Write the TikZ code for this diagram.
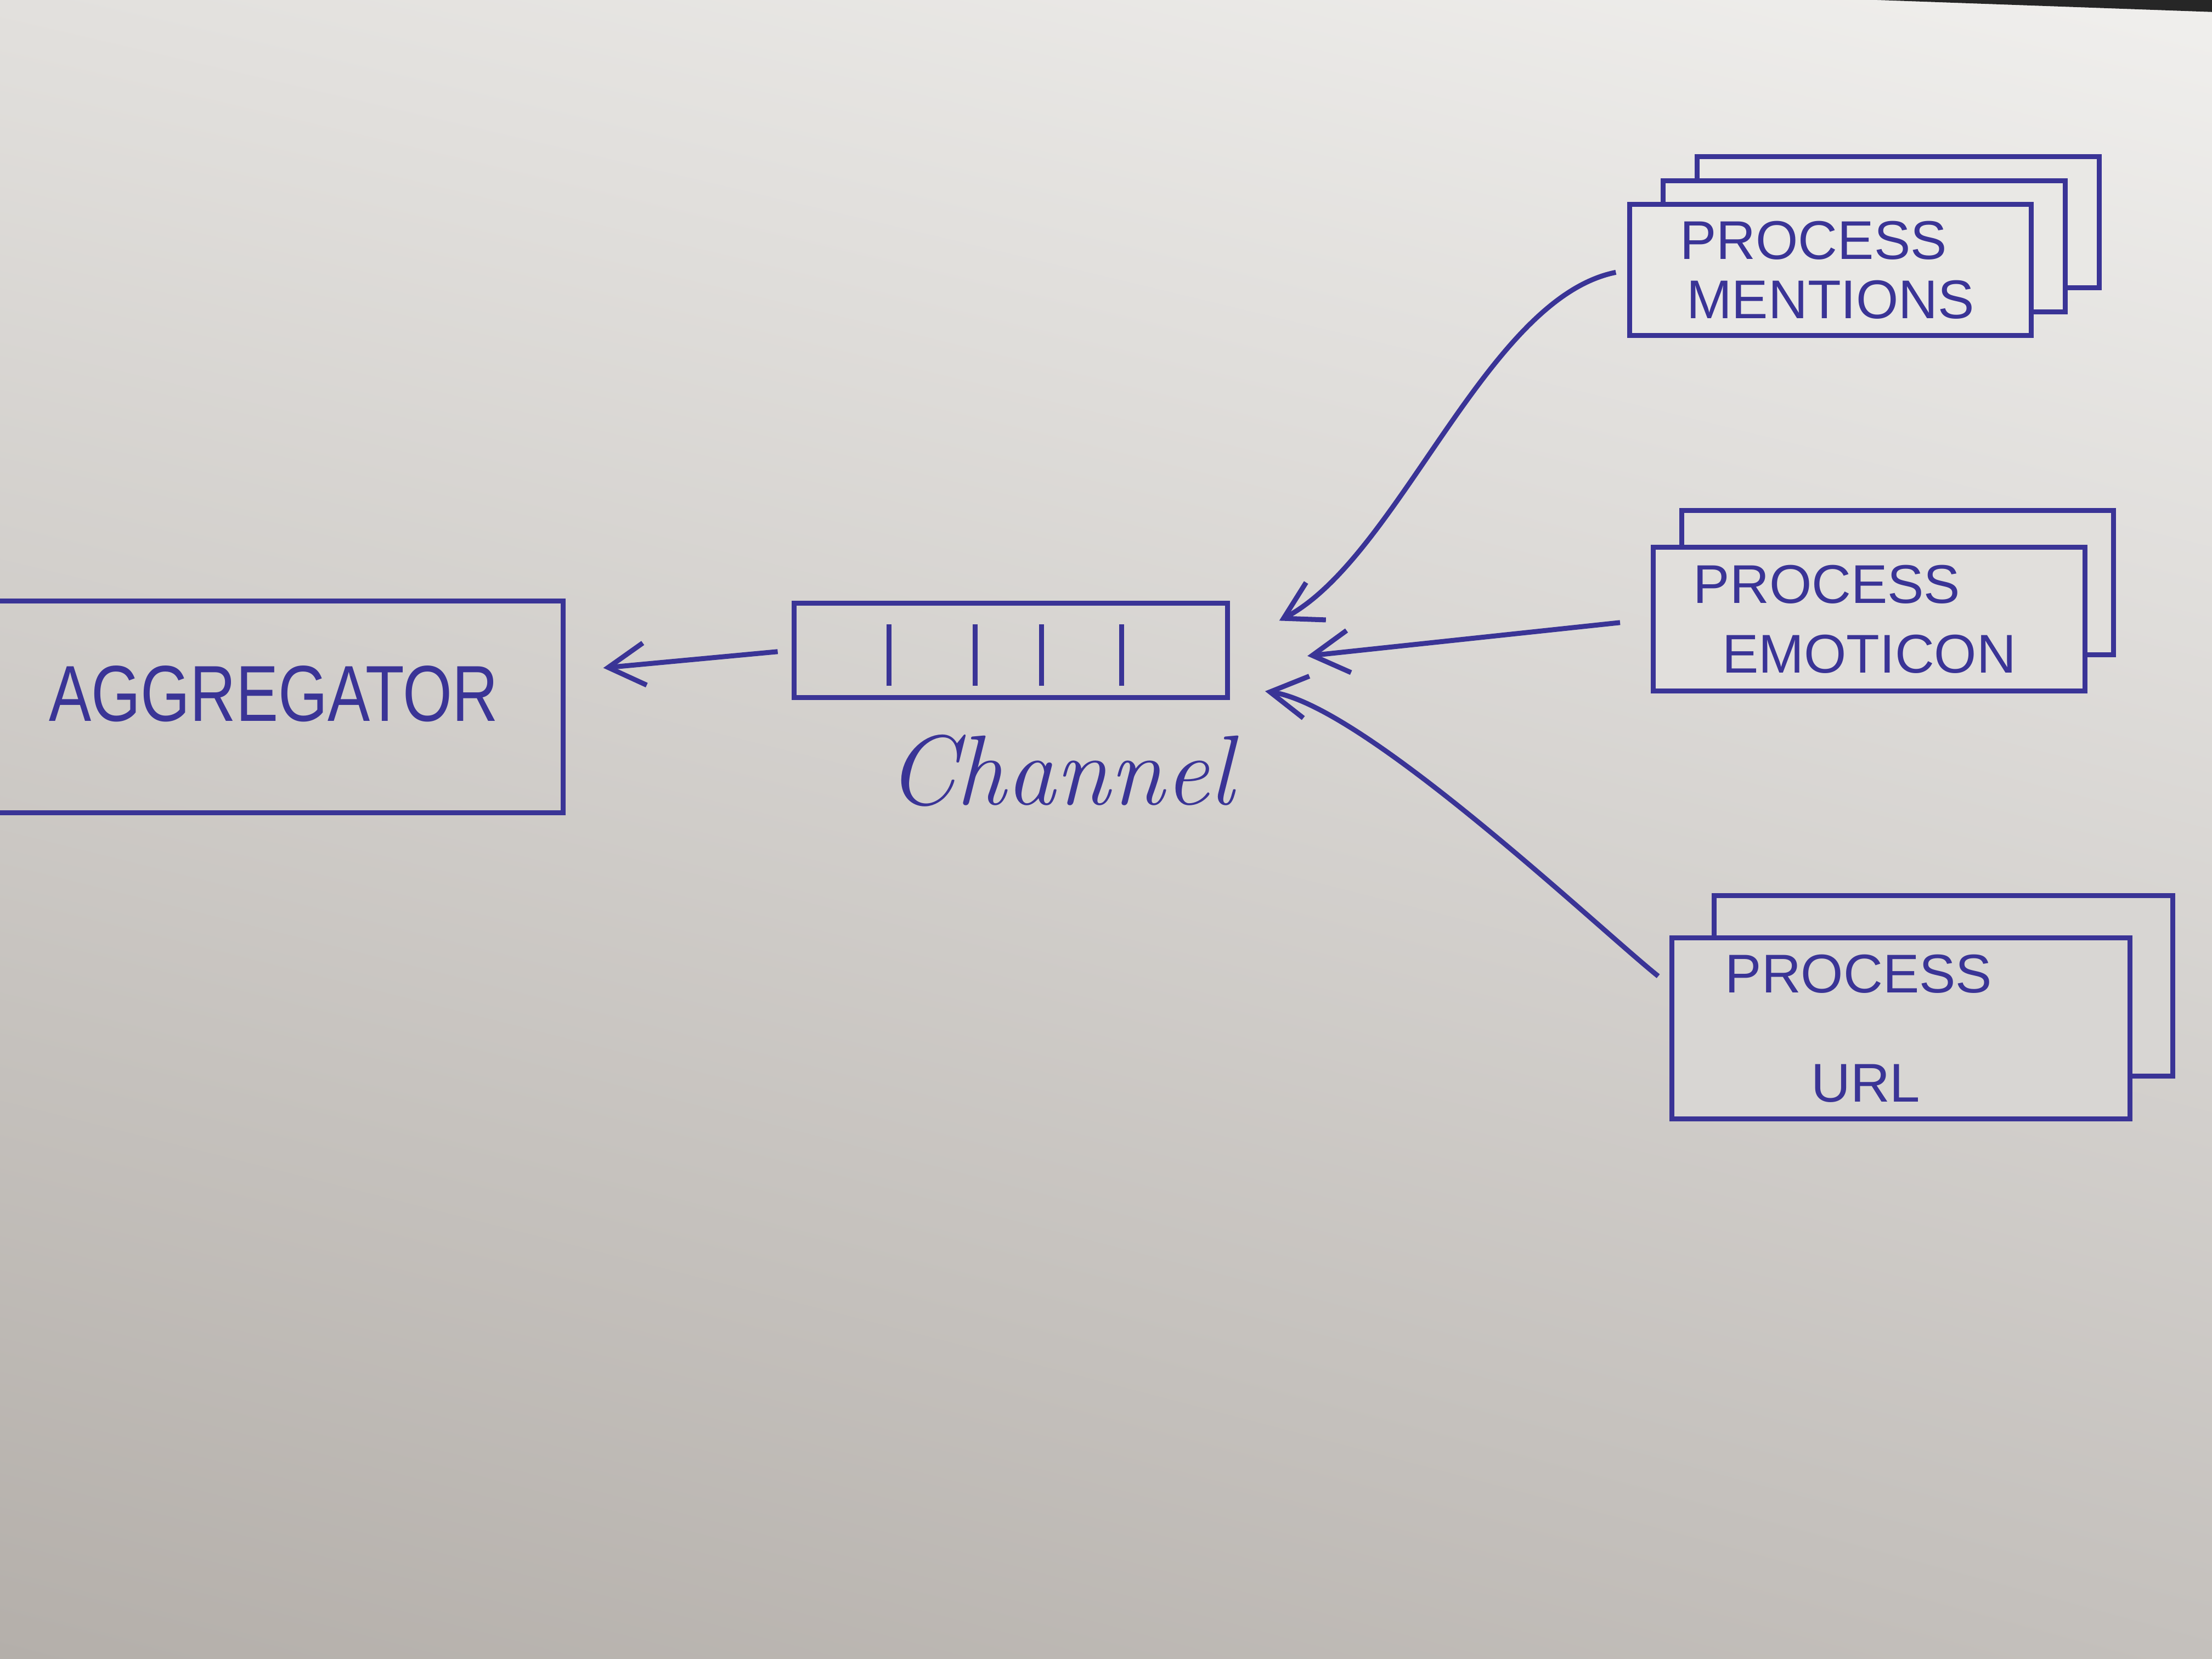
\documentclass[tikz,border=0pt]{standalone}
\usepackage{fontspec}
\setsansfont{Liberation Sans}
\usetikzlibrary{positioning,shadows,arrows.meta,shadings}

\definecolor{ink}{RGB}{58,52,150}
\definecolor{paperA}{RGB}{233,232,229}
\definecolor{paperB}{RGB}{225,223,220}
\definecolor{paperC}{RGB}{216,214,211}
\definecolor{paperUL}{RGB}{226,224,221}
\definecolor{paperUR}{RGB}{240,239,237}
\definecolor{paperLL}{RGB}{180,175,170}
\definecolor{paperLR}{RGB}{196,192,188}

\begin{document}
\begin{tikzpicture}[
	inkline/.style={draw=ink,line width=1pt},
	box/.style={inkline,rectangle,inner sep=0pt,text=ink,align=center,
		font=\sffamily\fontsize{11}{13}\selectfont},
	arr/.style={inkline,-{Straight Barb[length=2.6mm,width=3mm]}},
	stack/.style={inkline,fill=#1}
]
	% paper
	\useasboundingbox (0,0) rectangle (15.68,11.76);
	\shade[upper left=paperUL,upper right=paperUR,lower left=paperLL,lower right=paperLR]
		(0,0) rectangle (15.68,11.76);
	\fill[black!85] (13.3,11.76) -- (15.68,11.76) -- (15.68,11.675) -- cycle;

	% boxes
	\node[box,minimum width=4.1cm,minimum height=1.5cm,
		font=\sffamily\fontsize{16}{19}\selectfont] (agg) at (1.94,6.75)
		{\raisebox{1.9mm}{\scalebox{0.8}[1]{AGGREGATOR}}};
	\node[box,minimum width=3.07cm,minimum height=0.67cm] (chan) at (7.165,7.15) {};
	\foreach \x in {0.69,1.30,1.77,2.34}
		\draw[inkline] ([xshift=\x cm,yshift=0.1cm]chan.south west) -- ([xshift=\x cm,yshift=-0.17cm]chan.north west);
	\node[text=ink,font=\itshape\fontsize{20}{24}\selectfont,below=0.12cm of chan,xshift=0.35cm] (chanlbl) {Channel};

	\node[box,stack=paperA,minimum width=2.85cm,minimum height=0.93cm,
		double copy shadow={shadow xshift=0.24cm,shadow yshift=0.17cm,draw=ink,fill=paperA,line width=1pt}]
		(pm) at (12.975,9.845) {\hspace*{-2.4mm}PROCESS\\[-1pt]MENTIONS};
	\node[box,stack=paperB,minimum width=3.06cm,minimum height=1.02cm,
		copy shadow={shadow xshift=0.2cm,shadow yshift=0.26cm,draw=ink,fill=paperB,line width=1pt}]
		(pe) at (13.25,7.37) {\hspace*{-6mm}PROCESS\\[1pt]EMOTICON};
	\node[box,stack=paperC,minimum width=3.25cm,minimum height=1.28cm,
		copy shadow={shadow xshift=0.3cm,shadow yshift=0.3cm,draw=ink,fill=paperC,line width=1pt}]
		(pu) at (13.475,4.47) {\hspace*{-6mm}PROCESS\\[9pt]\hspace*{-5mm}URL};

	% arrows into the channel
	\coordinate (t1) at ([shift={(0.35,0.21)}]chan.east);
	\coordinate (t2) at ([shift={(0.55,-0.04)}]chan.east);
	\coordinate (t3) at ([shift={(0.25,-0.29)}]chan.east);

	\draw[arr,shorten <=0.1cm,shorten >=0.27cm] (chan.west) -- ([yshift=0.25cm]agg.east);
	\draw[arr,shorten <=0.08cm] (pm.west) .. controls +(-1.0,-0.2) and +(0.85,0.45) .. (t1);
	\draw[arr,shorten <=0.22cm] (pe.west) -- (t2);
	\draw[arr,shorten <=0.1cm] ([yshift=-0.35cm]pu.north west) .. controls +(-0.5,0.4) and +(0.7,-0.1) .. (t3);
\end{tikzpicture}
\end{document}
